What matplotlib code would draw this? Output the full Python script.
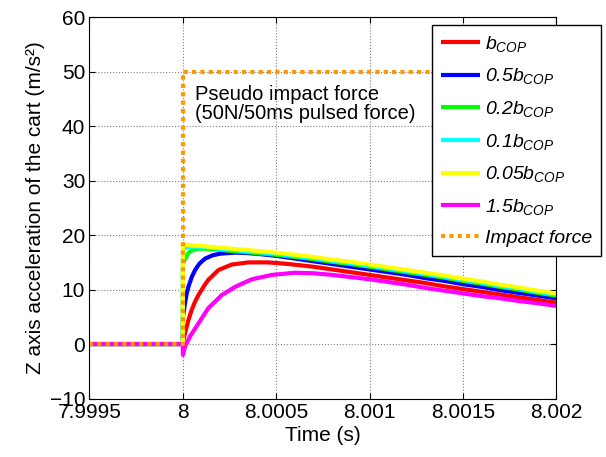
import numpy as np
import matplotlib
matplotlib.use("Agg")
import matplotlib.pyplot as plt

plt.rcParams['font.family'] = ['Liberation Sans', 'DejaVu Sans']
plt.rcParams['mathtext.fontset'] = 'custom'
plt.rcParams['mathtext.it'] = 'Liberation Sans:italic'
plt.rcParams['mathtext.rm'] = 'Liberation Sans:italic'

# time after 8 s, in microseconds
t_red = [-500, 0, 1, 4, 12, 21, 30, 48, 66, 84, 120, 137, 191, 262, 352, 459, 566,
         700, 800, 900, 1000, 1100, 1200, 1300, 1400, 1500, 1600, 1700, 1800, 1900, 2000]
a_red = [0, 0, 0.3, 0.8, 2.0, 3.2, 4.4, 6.3, 7.8, 9.0, 11.0, 11.8, 13.6, 14.6, 15.0, 15.0, 14.7,
         14.2, 13.7, 13.2, 12.7, 12.2, 11.7, 11.2, 10.6, 10.1, 9.6, 9.1, 8.6, 8.1, 7.6]

t_blue = [-500, 0, 1, 12, 21, 30, 48, 66, 90, 120, 160, 200, 280, 350, 420, 500,
          600, 700, 800, 900, 1000, 1100, 1200, 1300, 1400, 1500, 1600, 1700, 1800, 1900, 2000]
a_blue = [0, 0, 5.0, 7.5, 9.3, 10.5, 12.3, 13.6, 14.8, 15.7, 16.3, 16.6, 16.8, 16.7, 16.5, 16.2,
          15.7, 15.2, 14.7, 14.2, 13.7, 13.2, 12.7, 12.1, 11.6, 11.0, 10.5, 9.9, 9.4, 8.9, 8.4]

t_green = [-500, 0, 1, 12, 30, 50, 80, 120, 200, 300, 400, 500, 600, 700, 800, 900,
           1000, 1100, 1200, 1300, 1400, 1500, 1600, 1700, 1800, 1900, 2000]
a_green = [0, 0, 14.8, 15.6, 16.7, 17.2, 17.5, 17.5, 17.3, 17.0, 16.7, 16.4, 16.0, 15.6, 15.1, 14.7,
           14.2, 13.7, 13.2, 12.7, 12.2, 11.6, 11.1, 10.5, 10.0, 9.4, 8.9]

t_cyan = [-500, 0, 1, 10, 30, 60, 100, 200, 300, 400, 500, 600, 700, 800, 900,
          1000, 1100, 1200, 1300, 1400, 1500, 1600, 1700, 1800, 1900, 2000]
a_cyan = [0, 0, 17.3, 17.6, 17.8, 17.9, 17.8, 17.5, 17.2, 16.9, 16.6, 16.2, 15.8, 15.3, 14.9,
          14.4, 13.9, 13.4, 12.9, 12.4, 11.8, 11.3, 10.7, 10.2, 9.6, 9.1]

t_yellow = [-500, 0, 1, 50, 100, 200, 300, 400, 500, 600, 700, 800, 900,
            1000, 1100, 1200, 1300, 1400, 1500, 1600, 1700, 1800, 1900, 2000]
a_yellow = [0, 0, 18.3, 18.1, 18.0, 17.7, 17.4, 17.1, 16.8, 16.4, 16.0, 15.5, 15.1,
            14.6, 14.1, 13.6, 13.1, 12.6, 12.0, 11.5, 10.9, 10.4, 9.8, 9.3]

t_mag = [-500, 0, 1, 12, 39, 84, 137, 209, 280, 370, 477, 600, 700, 800, 900,
         1000, 1100, 1200, 1300, 1400, 1500, 1600, 1700, 1800, 1900, 2000]
a_mag = [0, 0, -2.0, -0.4, 1.4, 3.8, 6.6, 9.0, 10.5, 11.9, 12.7, 13.1, 13.0, 12.7, 12.3,
         11.9, 11.4, 10.9, 10.3, 9.8, 9.3, 8.8, 8.4, 7.9, 7.5, 7.0]

t_force = [-500, 0, 0, 2000]
a_force = [0, 0, 50, 50]

xticks = [7.9995, 8.0, 8.0005, 8.001, 8.0015, 8.002]
xticklabels = ['7.9995', '8', '8.0005', '8.001', '8.0015', '8.002']
yticks = [-10, 0, 10, 20, 30, 40, 50, 60]

series = [
    (t_red, a_red, 'red', r'$b_{COP}$'),
    (t_blue, a_blue, 'blue', r'$0.5b_{COP}$'),
    (t_green, a_green, '#00ff00', r'$0.2b_{COP}$'),
    (t_cyan, a_cyan, 'cyan', r'$0.1b_{COP}$'),
    (t_yellow, a_yellow, 'yellow', r'$0.05b_{COP}$'),
    (t_mag, a_mag, 'magenta', r'$1.5b_{COP}$'),
]

fig = plt.figure(figsize=(6.06, 4.57), dpi=100)
ax = fig.add_axes([0.1475, 0.128, 0.918 - 0.1475, 0.962 - 0.128])

def sec(t):
    return 8.0 + np.array(t) * 1e-6

for t, a, c, lab in series:
    ax.plot(sec(t), a, color=c, lw=3, label=lab, solid_capstyle='butt')
ax.plot(sec(t_force), a_force, color='#FF9900', lw=3, linestyle=(0, (1, 1)),
        dash_capstyle='butt', label='Impact force')

ax.text(8.000066, 44, 'Pseudo impact force\n(50N/50ms pulsed force)',
        fontsize=14.5, va='center', ha='left', linespacing=1.0)

ax.set_xlim(7.9995, 8.002)
ax.set_ylim(-10, 60)
ax.set_xticks(xticks)
ax.set_xticklabels(xticklabels)
ax.set_yticks(yticks)
ax.tick_params(direction='in', top=True, right=True, labelsize=15, length=4, pad=3)
ax.grid(True, linestyle=':', color='#808080', lw=0.8)
ax.set_xlabel('Time (s)', fontsize=15, labelpad=3)
ax.set_ylabel('Z axis acceleration of the cart (m/s²)', fontsize=15, labelpad=3)

leg = fig.legend(loc='upper left', bbox_to_anchor=(432 / 606, 1 - 25 / 457),
                 bbox_transform=fig.transFigure, fancybox=False, borderaxespad=0,
                 framealpha=1, edgecolor='black', handlelength=2.0,
                 labelspacing=0.65, borderpad=0.45, handletextpad=0.3,
                 prop={'style': 'italic', 'size': 14})
leg.get_frame().set_linewidth(1.0)

fig.savefig('out.png', dpi=100)
